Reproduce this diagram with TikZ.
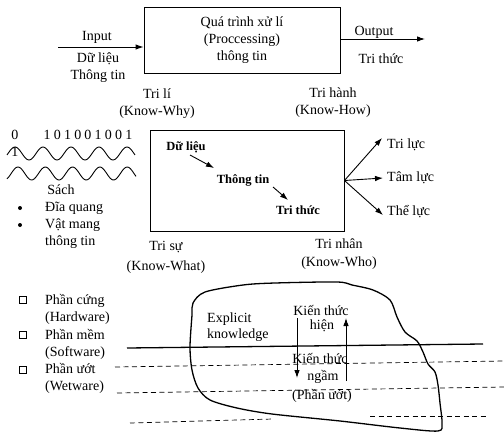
\documentclass[tikz,border=0pt]{standalone}
\usepackage{fontspec}
\setmainfont{Liberation Serif}
\newfontfamily\bitsfont[LetterSpace=23]{Liberation Serif}
\usepackage{tikz}
\usetikzlibrary{arrows.meta,calc}

\begin{document}
\begin{tikzpicture}[x=1pt,y=-1pt,
  txt/.style={inner sep=0pt,font=\fontsize{14}{17}\selectfont,align=center},
  bld/.style={inner sep=0pt,font=\fontsize{12.5}{15}\selectfont\bfseries},
  arr/.style={-{Latex[length=8pt,width=5.5pt]},line width=0.9pt},
  dsh/.style={dash pattern=on 5pt off 3.5pt,line width=0.7pt},
  sq/.style={draw,line width=1.1pt,minimum size=7pt,inner sep=0pt},
  dot/.style={fill,circle,inner sep=0pt,minimum size=4pt}]
\useasboundingbox (0,0) rectangle (504,432);

% processing
\node[draw,txt,line width=0.9pt,minimum width=196pt,minimum height=66pt] (proc) at (242,40) {Quá trình xử lí\\(Proccessing)\\thông tin};
\coordinate (inStart) at (58,47);
\coordinate (outEnd) at (425,39);
\draw[arr] (inStart) -- (inStart -| proc.west);
\draw[arr] (outEnd -| proc.east) -- (outEnd);
\node[txt] (inp) at (97,37) {Input};
\node[txt] (inData) at (98,68) {Dữ liệu\\Thông tin};
\node[txt] (outp) at (374,32) {Output};
\node[txt] (outKnow) at (381,59) {Tri thức};

% knowledge box
\node[txt] (why) at (157,104) {Tri lí\\(Know-Why)};
\node[txt] (how) at (333,103) {Tri hành\\(Know-How)};
\node[draw,line width=0.9pt,minimum width=194pt,minimum height=101pt,inner sep=0pt] (core) at (247,180.5) {};
\node[bld] (dl) at (186,147) {Dữ liệu};
\node[bld] (tt) at (243,180) {Thông tin};
\node[bld] (tk) at (298,210) {Tri thức};
\draw[arr] ($(dl)+(4,8)$) -- ($(tt)+(-29,-12)$);
\draw[arr] ($(tt)+(30,7)$) -- ($(tk)+(-10,-10)$);
\node[txt,anchor=west] (luc1) at (387,145) {Tri lực};
\node[txt,anchor=west] (luc2) at (387,178) {Tâm lực};
\node[txt,anchor=west] (luc3) at (387,212) {Thể lực};
\draw[arr] (core.east) -- ($(luc1.west)+(-5,-7)$);
\draw[arr] (core.east) -- ($(luc2.west)+(-4,0)$);
\draw[arr] (core.east) -- ($(luc3.west)+(-4,3)$);
\node[txt] (what) at (166,257) {Tri sự\\[3pt](Know-What)};
\node[txt] (who) at (339,254) {Tri nhân\\[1pt](Know-Who)};

% carriers
\node[txt] (zero) at (15,135) {0};
\node[txt] (bits) at (88,135) {\bitsfont 101001001};
\node[txt] (one) at (15,152) {1};
\draw[line width=0.9pt] plot[domain=7:135,samples=90] (\x,{153.5-6.5*cos((\x-15)*12.857)});
\draw[line width=0.9pt] plot[domain=7:136,samples=90] (\x,{173.5-6.5*cos((\x-18)*13.187)});
\node[txt] (book) at (61,190) {Sách};
\node[dot] (b1) at (20,208) {};
\node[txt,anchor=west] (disc) at (45,208) {Đĩa quang};
\node[dot] (b2) at (20,225) {};
\node[txt,anchor=west,align=left] (carrier) at (45,233.5) {Vật mang\\thông tin};

% ware
\node[sq] (s1) at (23,300) {};
\node[txt,anchor=west,align=left] (hw) at (45,309) {Phần cứng\\(Hardware)};
\node[sq] (s2) at (23,335) {};
\node[txt,anchor=west,align=left] (sw) at (45,344) {Phần mềm\\(Software)};
\node[sq] (s3) at (23,370) {};
\node[txt,anchor=west,align=left] (ww) at (45,378.5) {Phần ướt\\(Wetware)};

% iceberg
\draw[line width=1.3pt] plot[smooth cycle,tension=0.5] coordinates {
  (193,303) (205,292) (243,285) (275,283) (337,282) (352,285) (373,290)
  (390,300) (397,317) (405,332) (417,341) (423,352) (428,364) (435,372)
  (438,385) (440,403) (442,423) (438,431) (400,428) (340,421) (272,414)
  (237,408) (210,400) (198,388) (192,370) (190,347) (192,315)};
\draw[line width=1.3pt] (127,348) -- (483,344);
\draw[dsh] (115,367) -- (504,361);
\draw[dsh] (117,393) -- (504,387);
\draw[dsh] (130,423) -- (273,419);
\draw[dsh] (370,416) -- (488,416);
\node[txt,anchor=west,align=left] (expl) at (207,327.5) {Explicit\\[-1pt]knowledge};
\node[txt] (kt1) at (321,310) {Kiến thức};
\node[txt] (hien) at (322,326) {hiện};
\node[txt] (kt2) at (320,358) {Kiến thức};
\node[txt] (ngam) at (323,377) {ngầm};
\node[txt] (wet) at (322,396) {(Phần ướt)};
\coordinate (dnTop) at (297,318);
\coordinate (dnEnd) at (297,378);
\coordinate (upStart) at (346,381);
\coordinate (upEnd) at (346,318);
\draw[arr] (dnTop) -- (dnEnd);
\draw[arr] (upStart) -- (upEnd);
\end{tikzpicture}
\end{document}
